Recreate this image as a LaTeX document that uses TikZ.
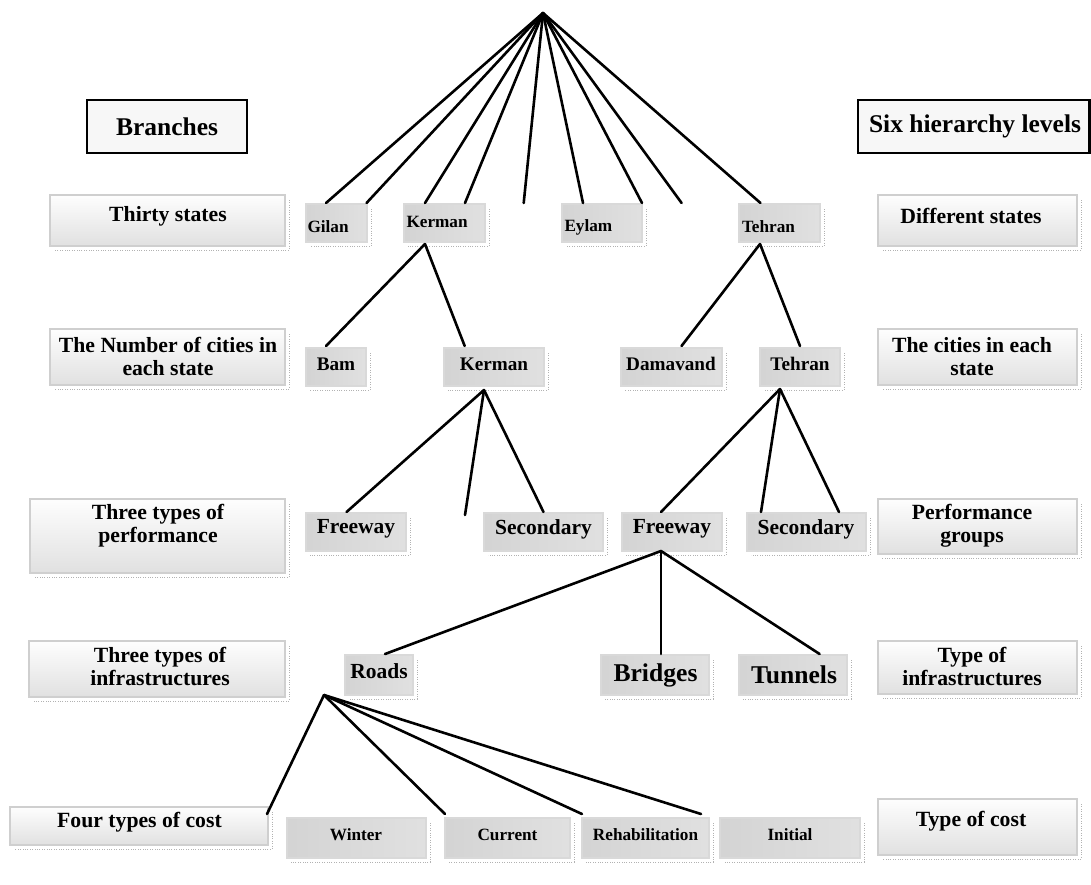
\documentclass[tikz,border=0pt]{standalone}
\usepackage{fontspec}
\setmainfont{Liberation Serif}
\usetikzlibrary{calc}

% type sizes used in the hierarchy
\newcommand\fsHead{\fontsize{25.5}{28}\selectfont\bfseries}
\newcommand\fsSide{\fontsize{21.7}{23.3}\selectfont\bfseries}
\newcommand\fsTiny{\fontsize{17.2}{19}\selectfont\bfseries}
\newcommand\fsCity{\fontsize{19.2}{21}\selectfont\bfseries}
\newcommand\fsPerf{\fontsize{21.5}{23}\selectfont\bfseries}
\newcommand\fsInfra{\fontsize{25.6}{28}\selectfont\bfseries}

% box from (x1,y1) to (x2,y2) plus its caption node
% #1 name, #2 style, #3 x1, #4 y1, #5 x2, #6 y2, #7 caption options, #8 caption
\newcommand\grbox[8]{%
  \node[#2, minimum width={#5-#3}, minimum height={#6-#4}] (#1) at ({(#3+#5)/2},{(#4+#6)/2}) {};
  \node[txt, #7] (#1-t) {#8};}

\tikzset{
  conn/.style={line width=2.6pt, black, line cap=round},
  head/.style={draw=black, line width=2.4pt, fill=gray!6, inner sep=0pt, outer sep=0pt},
  side/.style={draw=gray!38, line width=1.6pt, top color=gray!1, bottom color=gray!24,
               inner sep=0pt, outer sep=0pt},
  item/.style={draw=gray!30, line width=1.6pt, left color=gray!34, middle color=gray!5,
               right color=gray!24, inner sep=0pt, outer sep=0pt},
  txt/.style={inner sep=0pt, outer sep=0pt, align=center},
  shadowline/.style={gray!60, line width=0.7pt, dash pattern=on 0.8pt off 1.6pt},
}

\begin{document}
\begin{tikzpicture}[x=1pt, y=-1pt]
\useasboundingbox (0,0) rectangle (1091,884);
\fill[white] (0,0) rectangle (1091,884);

% headers
\grbox{branches}{head}{87}{100}{247}{153}{font=\fsHead, at={(167,126.5)}}{Branches}
\grbox{six}{head}{858}{100}{1089.5}{153}{font=\fsHead, at={(975,126.5)}}{Six hierarchy levels}

% left column: branches
\grbox{thirty}{side}{50}{195}{285}{246}{font=\fsSide, at={(168,216)}}{Thirty states}
\grbox{cities}{side}{50}{329}{285}{385}{font=\fsSide, at={(168,356.5)}}{The Number of cities in\\ each state}
\grbox{perf}{side}{30}{499}{285}{573}{font=\fsSide, at={(158,525.5)}}{Three types of\\ performance}
\grbox{infra}{side}{29}{641}{285}{697}{font=\fsSide, at={(160,666.5)}}{Three types of\\ infrastructures}
\grbox{fourcost}{side}{10}{807}{268}{845}{font=\fsSide, at={(139.5,822)}}{Four types of cost}

% right column: hierarchy levels
\grbox{diffstates}{side}{878}{195}{1077}{246}{font=\fsSide, at={(971,216)}}{Different states}
\grbox{citiesR}{side}{878}{329}{1077}{385}{font=\fsSide, at={(972,356.5)}}{The cities in each\\ state}
\grbox{perfgroups}{side}{878}{499}{1077}{554}{font=\fsSide, at={(972,526)}}{Performance\\ groups}
\grbox{typeinfra}{side}{878}{641}{1077}{694}{font=\fsSide, at={(972,666.5)}}{Type of\\ infrastructures}
\grbox{typecost}{side}{878}{799}{1077}{855}{font=\fsSide, at={(971,821)}}{Type of cost}

% level 1: states
\grbox{gilan}{item}{306}{204}{367}{242}{font=\fsTiny, anchor=west, at={(307.5,227)}}{Gilan}
\grbox{kerman1}{item}{404}{204}{485}{242}{font=\fsTiny, anchor=west, at={(406.5,222)}}{Kerman}
\grbox{eylam}{item}{562}{204}{642}{242}{font=\fsTiny, anchor=west, at={(564.5,227)}}{Eylam}
\grbox{tehran1}{item}{739}{204}{820}{242}{font=\fsTiny, anchor=west, at={(742,227)}}{Tehran}

% level 2: cities
\grbox{bam}{item}{306}{348}{366}{386}{font=\fsCity, at={(336,364)}}{Bam}
\grbox{kerman2}{item}{444}{348}{544}{386}{font=\fsCity, at={(494,364)}}{Kerman}
\grbox{damavand}{item}{621}{348}{722}{386}{font=\fsCity, at={(671,364)}}{Damavand}
\grbox{tehran2}{item}{760}{348}{840}{386}{font=\fsCity, at={(800,364)}}{Tehran}

% level 3: performance
\grbox{freeL}{item}{306}{513}{406}{551}{font=\fsPerf, at={(356,529)}}{Freeway}
\grbox{secL}{item}{484}{513}{603}{551}{font=\fsPerf, at={(543.5,529)}}{Secondary}
\grbox{freeR}{item}{622}{513}{722}{551}{font=\fsPerf, at={(672,529)}}{Freeway}
\grbox{secR}{item}{747}{513}{866}{551}{font=\fsPerf, at={(806,529)}}{Secondary}

% level 4: infrastructures
\grbox{roads}{item}{345}{655}{413}{695}{font=\fsPerf, at={(379,671)}}{Roads}
\grbox{bridges}{item}{601}{655}{709}{695}{font=\fsInfra, at={(655.5,675)}}{Bridges}
\grbox{tunnels}{item}{739}{655}{847}{695}{font=\fsInfra, at={(794,675)}}{Tunnels}

% level 5: costs
\grbox{winter}{item}{287}{818}{426}{858}{font=\fsTiny, at={(356,835)}}{Winter}
\grbox{current}{item}{445}{818}{570}{858}{font=\fsTiny, at={(507.5,835)}}{Current}
\grbox{rehab}{item}{582}{818}{709}{858}{font=\fsTiny, at={(645.5,835)}}{Rehabilitation}
\grbox{initial}{item}{720}{818}{860}{858}{font=\fsTiny, at={(790,835)}}{Initial}

% dotted drop lines along the right and lower edges
\foreach \n in {thirty,cities,perf,infra,fourcost,diffstates,citiesR,perfgroups,typeinfra,typecost,
                gilan,kerman1,eylam,tehran1,bam,kerman2,damavand,tehran2,
                freeL,secL,freeR,secR,roads,bridges,tunnels,winter,current,rehab,initial}
  \draw[shadowline] ([xshift=4pt,yshift=-5pt]\n.north east) -- ([xshift=4pt,yshift=-4pt]\n.south east)
                    -- ([xshift=4pt,yshift=-4pt]\n.south west);

% free ends and hubs
\coordinate (root) at (543,13);
\coordinate (free1) at (523.7,203);
\coordinate (free2) at (681.6,203);
\coordinate (free3) at (465,515);
\coordinate (rhub) at (324,695);

% root to states
\draw[conn] (root) -- ([xshift=-10.5pt,yshift=1pt]gilan.north);
\draw[conn] (root) -- ([xshift=-0.5pt,yshift=1pt]gilan.north east);
\draw[conn] (root) -- ([xshift=-19.5pt,yshift=1pt]kerman1.north);
\draw[conn] (root) -- ([xshift=20.5pt,yshift=1pt]kerman1.north);
\draw[conn] (root) -- (free1);
\draw[conn] (root) -- ([xshift=-19pt,yshift=1pt]eylam.north);
\draw[conn] (root) -- ([yshift=1pt]eylam.north east);
\draw[conn] (root) -- (free2);
\draw[conn] (root) -- ([xshift=-19pt,yshift=1pt]tehran1.north);

% states to cities
\draw[conn] ([xshift=-19.5pt,yshift=-2pt]kerman1.south) -- ([xshift=-10pt,yshift=2pt]bam.north);
\draw[conn] ([xshift=-19.5pt,yshift=-2pt]kerman1.south) -- ([xshift=-29.3pt,yshift=2pt]kerman2.north);
\draw[conn] ([xshift=-19.5pt,yshift=-2pt]tehran1.south) -- ([xshift=10pt,yshift=2pt]damavand.north);
\draw[conn] ([xshift=-19.5pt,yshift=-2pt]tehran1.south) -- ([yshift=2pt]tehran2.north);

% cities to performance groups
\draw[conn] ([xshift=-10pt,yshift=-4pt]kerman2.south) -- ([xshift=-9.5pt,yshift=1pt]freeL.north);
\draw[conn] ([xshift=-10pt,yshift=-4pt]kerman2.south) -- (free3);
\draw[conn] ([xshift=-10pt,yshift=-4pt]kerman2.south) -- ([yshift=1pt]secL.north);
\draw[conn] ([xshift=-20pt,yshift=-3pt]tehran2.south) -- ([xshift=-11pt,yshift=1pt]freeR.north);
\draw[conn] ([xshift=-20pt,yshift=-3pt]tehran2.south) -- ([xshift=-45.5pt,yshift=1pt]secR.north);
\draw[conn] ([xshift=-20pt,yshift=-3pt]tehran2.south) -- ([xshift=32.5pt,yshift=1pt]secR.north);

% freeway to infrastructures
\draw[conn] ([xshift=-11pt]freeR.south) -- ([xshift=6pt,yshift=1pt]roads.north);
\draw[conn] ([xshift=-11pt]freeR.south) -- ([xshift=6pt,yshift=1pt]bridges.north);
\draw[conn] ([xshift=-11pt]freeR.south) -- ([xshift=26.6pt,yshift=1pt]tunnels.north);

% roads to costs
\draw[conn] (rhub) -- ([xshift=-1pt,yshift=-7pt]fourcost.north east);
\draw[conn] (rhub) -- ([yshift=4pt]current.north west);
\draw[conn] (rhub) -- ([yshift=4pt]rehab.north west);
\draw[conn] (rhub) -- ([xshift=-8pt,yshift=4pt]rehab.north east);
\end{tikzpicture}
\end{document}
